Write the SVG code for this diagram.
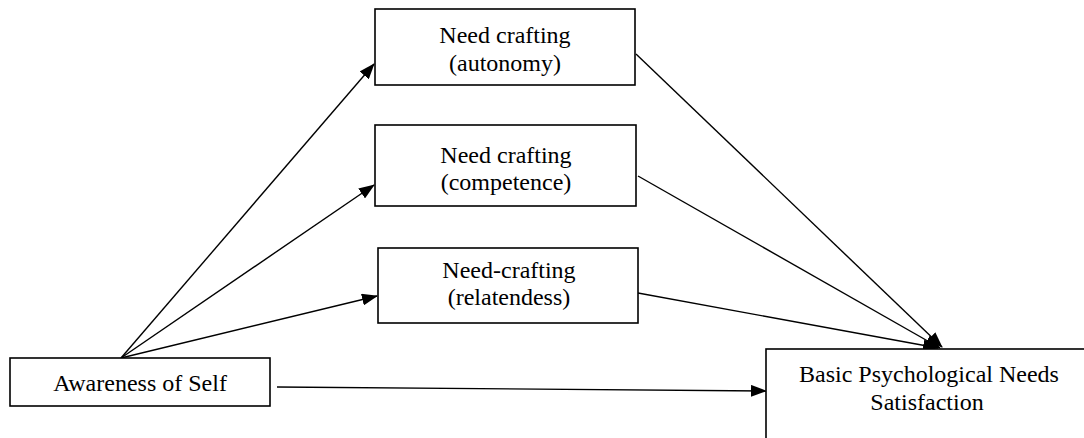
<svg xmlns="http://www.w3.org/2000/svg" width="1084" height="438" viewBox="0 0 1084 438">
  <style>
    .box { fill: #ffffff; stroke: #000000; stroke-width: 1.6; }
    .lbl { font-family: "Liberation Serif", "Times New Roman", serif; font-size: 24px; fill: #000000; text-anchor: middle; }
    .edge { stroke: #000000; stroke-width: 1.4; fill: none; marker-end: url(#arrow); }
  </style>
  <defs>
    <marker id="arrow" markerUnits="userSpaceOnUse" markerWidth="16" markerHeight="12" refX="15" refY="6" orient="auto">
      <path d="M0,0 L16,6 L0,12 z" fill="#000000"/>
    </marker>
  </defs>
  <rect width="1084" height="438" fill="#ffffff"/>
  <g id="connectors">
    <line class="edge" x1="121" y1="358" x2="374" y2="64"/>
    <line class="edge" x1="121" y1="358" x2="374" y2="185"/>
    <line class="edge" x1="121" y1="358" x2="377" y2="296"/>
    <line class="edge" x1="277" y1="387" x2="766" y2="391"/>
    <line class="edge" x1="636" y1="54" x2="942" y2="347"/>
    <line class="edge" x1="638" y1="176" x2="940" y2="348"/>
    <line class="edge" x1="638" y1="293" x2="938" y2="348"/>
  </g>
  <g id="node-autonomy">
    <rect class="box" x="375" y="9" width="260" height="76"/>
    <text class="lbl" x="505" y="43">Need crafting</text>
    <text class="lbl" x="505" y="71">(autonomy)</text>
  </g>
  <g id="node-competence">
    <rect class="box" x="375" y="125" width="261" height="81"/>
    <text class="lbl" x="506" y="163">Need crafting</text>
    <text class="lbl" x="506" y="190">(competence)</text>
  </g>
  <g id="node-relatedness">
    <rect class="box" x="378" y="248" width="260" height="75"/>
    <text class="lbl" x="509" y="278">Need-crafting</text>
    <text class="lbl" x="509" y="305">(relatendess)</text>
  </g>
  <g id="node-awareness">
    <rect class="box" x="10" y="358" width="260" height="48"/>
    <text class="lbl" x="140" y="391">Awareness of Self</text>
  </g>
  <g id="node-bpns">
    <rect class="box" x="766" y="349" width="330" height="100"/>
    <text class="lbl" x="929" y="382">Basic Psychological Needs</text>
    <text class="lbl" x="927" y="410">Satisfaction</text>
  </g>
</svg>
